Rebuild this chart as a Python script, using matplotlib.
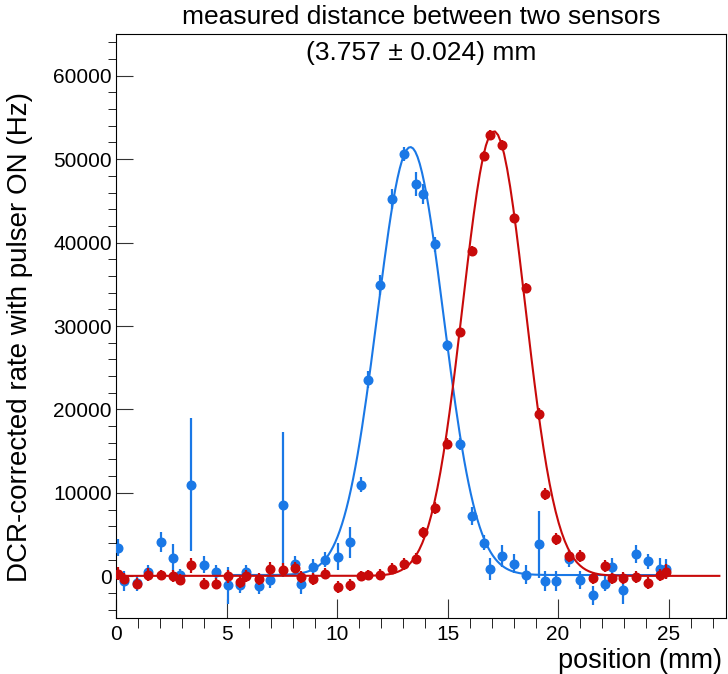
import matplotlib
matplotlib.use('Agg')
import matplotlib.pyplot as plt
import numpy as np
from matplotlib.ticker import MultipleLocator

plt.rcParams['font.family'] = ['Liberation Sans', 'DejaVu Sans']

# scan positions (mm)
position = [0.08, 0.36, 0.93, 1.47, 2.04, 2.60, 2.90, 3.40, 3.96, 4.53,
            5.06, 5.62, 5.89, 6.45, 6.98, 7.55, 8.11, 8.37, 8.91, 9.47,
            10.03, 10.57, 11.10, 11.38, 11.93, 12.47, 13.03, 13.58, 13.90, 14.45,
            14.98, 15.55, 16.10, 16.63, 16.91, 17.47, 18.00, 18.56, 19.12, 19.39,
            19.93, 20.50, 21.00, 21.60, 22.13, 22.43, 22.96, 23.51, 24.07, 24.60,
            24.87]

# sensor 1 (blue)
rate_blue = [3450, -560, -800, 480, 4100, 2210, 120, 10975, 1400, 520,
             -1085, -1085, 520, -1165, -400, 8560, 1530, -965, 1125, 2010,
             2330, 4050, 10950, 23560, 34860, 45195, 50600, 47000, 45800, 39790,
             27680, 15870, 7220, 4010, 840, 2400, 1520, 200, 3810, -600,
             -520, 2100, -480, -2290, -880, 1080, -1690, 2650, 1780, 920,
             880]
err_blue = [1000, 1200, 1000, 900, 1200, 1600, 800, 8000, 1000, 800,
            2200, 900, 800, 1000, 1000, 8700, 900, 1200, 1000, 900,
            1600, 1800, 900, 1000, 1200, 1200, 800, 1400, 1200, 900,
            700, 700, 1100, 900, 1300, 1300, 1100, 1100, 4000, 1200,
            1200, 1000, 1100, 1100, 900, 1100, 1600, 1100, 900, 1300,
            1200]

# sensor 2 (red)
rate_red = [320, -280, -880, 200, 120, 0, -400, 1330, -880, -880,
            0, -680, 40, -360, 925, 800, 1045, -80, -360, 320,
            -1290, -1080, 0, 200, 200, 920, 1440, 2120, 5250, 8220,
            15900, 29270, 38950, 50320, 52930, 51690, 42910, 34500, 19430, 9860,
            4480, 2400, 2400, -200, 1200, -250, -200, -80, -800, 120,
            520]
err_red = [800, 700, 700, 800, 600, 700, 700, 900, 700, 700,
           800, 700, 700, 700, 800, 800, 700, 700, 700, 700,
           700, 700, 600, 600, 700, 700, 700, 700, 700, 700,
           700, 600, 600, 600, 600, 600, 600, 600, 700, 700,
           700, 700, 700, 700, 700, 700, 700, 700, 700, 700,
           900]

# gaus + const fit results
blue_fit = {'amp': 51300, 'mean': 13.32, 'sigma': 1.50, 'const': 150, 'xmin': 5.0, 'xmax': 25.0}
red_fit = {'amp': 53300, 'mean': 17.10, 'sigma': 1.42, 'const': 50, 'xmin': 0.0, 'xmax': 27.3}

blue = '#1a78e6'
red = '#c80a0a'


def gaus_const(fit):
    xs = np.linspace(fit['xmin'], fit['xmax'], 200)
    return xs, fit['const'] + fit['amp'] * np.exp(-0.5 * ((xs - fit['mean']) / fit['sigma']) ** 2)


fig = plt.figure(figsize=(7.28, 6.74), dpi=100)
ax = fig.add_axes([116 / 728, 56 / 674, 610 / 728, 584 / 674])

ax.errorbar(position, rate_blue, yerr=err_blue, fmt='o', color=blue, ms=6.2,
            elinewidth=1.6, capsize=0, zorder=3)
xs, ys = gaus_const(blue_fit)
ax.plot(xs, ys, color=blue, lw=1.5, zorder=4)

ax.errorbar(position, rate_red, yerr=err_red, fmt='o', color=red, ms=6.2,
            elinewidth=1.6, capsize=0, zorder=5)
xs, ys = gaus_const(red_fit)
ax.plot(xs, ys, color=red, lw=1.5, zorder=6)

ax.set_xlim(0, 27.6)
ax.set_ylim(-5000, 65000)
ax.xaxis.set_major_locator(MultipleLocator(5))
ax.xaxis.set_minor_locator(MultipleLocator(1))
ax.yaxis.set_major_locator(MultipleLocator(10000))
ax.yaxis.set_minor_locator(MultipleLocator(2000))
ax.tick_params(axis='both', direction='in', labelsize=15, width=0.8, color='#333333')
ax.tick_params(axis='x', which='major', length=14, pad=5)
ax.tick_params(axis='x', which='minor', length=7)
ax.tick_params(axis='y', which='major', length=12, pad=3)
ax.tick_params(axis='y', which='minor', length=6)
for s in ax.spines.values():
    s.set_linewidth(0.8)

ax.set_xlabel('position (mm)', fontsize=19.5, loc='right')
ax.xaxis.set_label_coords(0.993, -0.051)
ax.set_ylabel('DCR-corrected rate with pulser ON (Hz)', fontsize=20)
ax.yaxis.set_label_coords(-0.136, 0.481)

fig.text(421 / 728, 1 - 17 / 674, 'measured distance between two sensors',
         ha='center', va='center', fontsize=19)
ax.text(0.5, 0.968, '(3.757 \u00b1 0.024) mm', transform=ax.transAxes,
        ha='center', va='center', fontsize=19)

fig.savefig('out.png', dpi=100)
